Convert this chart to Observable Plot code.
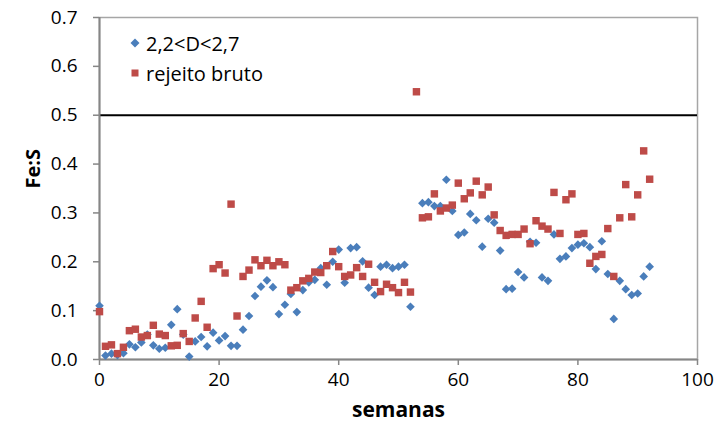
<!DOCTYPE html>
<html><head><meta charset="utf-8">
<script src="https://cdn.jsdelivr.net/npm/d3@7"></script>
<script src="https://cdn.jsdelivr.net/npm/@observablehq/plot@0.6"></script>
<style>
body{margin:0;background:#fff;font-family:"Open Sans",Lato,sans-serif}
#wrap{position:relative;width:715px;height:423px}
#legend{position:absolute;left:129px;top:28px;font-size:20px;color:#000;font-family:"Open Sans",Lato,sans-serif}
#legend .row{display:flex;align-items:center;height:30px}
#legend svg{margin-right:5px}
</style></head>
<body>
<div id="wrap"><div id="legend"></div></div>
<script>
const weeks = [0,1,2,3,4,5,6,7,8,9,10,11,12,13,14,15,16,17,18,19,20,21,22,23,24,25,26,27,28,29,30,31,32,33,34,35,36,37,38,39,40,41,42,43,44,45,46,47,48,49,50,51,52,53,54,55,56,57,58,59,60,61,62,63,64,65,66,67,68,69,70,71,72,73,74,75,76,77,78,79,80,81,82,83,84,85,86,87,88,89,90,91,92];
const seriesNames = ["2,2<D<2,7", "rejeito bruto"];
const densa = [
  0.110,0.008,0.012,0.009,0.013,0.031,0.025,0.035,0.051,0.029,
  0.022,0.024,0.071,0.103,0.051,0.006,0.037,0.046,0.027,0.055,
  0.039,0.048,0.028,0.028,0.061,0.089,0.130,0.149,0.162,0.148,
  0.093,0.112,0.134,0.097,0.142,0.158,0.163,0.187,0.153,0.200,
  0.225,0.157,0.228,0.230,0.201,0.147,0.132,0.190,0.194,0.187,
  0.190,0.194,0.108,null,0.320,0.322,0.314,0.314,0.368,0.304,
  0.255,0.260,0.298,0.285,0.231,0.288,0.280,0.223,0.144,0.145,
  0.179,0.168,0.241,0.239,0.168,0.161,0.256,0.206,0.211,0.228,
  0.235,0.238,0.230,0.185,0.242,0.175,0.083,0.161,0.144,0.132,
  0.135,0.170,0.190];
const rejeito = [
  0.098,0.027,0.030,0.012,0.025,0.059,0.062,0.046,0.049,0.070,
  0.052,0.049,0.028,0.029,0.053,0.037,0.085,0.119,0.066,0.186,
  0.194,0.177,0.318,0.089,0.170,0.183,0.204,0.192,0.203,0.192,
  0.200,0.194,0.142,0.147,0.161,0.166,0.179,0.178,0.192,0.221,
  0.190,0.170,0.173,0.188,0.170,0.195,0.158,0.139,0.154,0.147,
  0.137,0.158,0.138,0.548,0.290,0.292,0.339,0.304,0.310,0.316,
  0.361,0.329,0.341,0.365,0.337,0.353,0.296,0.264,0.254,0.256,
  0.256,0.267,0.237,0.284,0.273,0.267,0.342,0.258,0.327,0.339,
  0.256,0.258,0.197,0.211,0.215,0.268,0.170,0.290,0.358,0.292,
  0.337,0.427,0.369];
const limitLine = [0.5];
const xDomain = [0, 100];
const yDomain = [0, 0.7];
const xTicks = [0, 20, 40, 60, 80, 100];
const yTicks = [0, 0.1, 0.2, 0.3, 0.4, 0.5, 0.6, 0.7];
const xTitle = "semanas";
const yTitle = "Fe:S";

const blueData = weeks.map((w, i) => ({x: w, y: densa[i]})).filter(d => d.y != null);
const redData = weeks.map((w, i) => ({x: w, y: rejeito[i]})).filter(d => d.y != null);

const BLUE = "#4a7ebb", RED = "#be4b48", AXIS = "#868686";
const font = "'Open Sans', Lato, sans-serif";

const chart = Plot.plot({
  width: 715, height: 423,
  marginLeft: 99, marginRight: 18, marginTop: 17, marginBottom: 64,
  style: {fontFamily: font, fontSize: "19px", color: "#000", background: "#fff", overflow: "visible"},
  x: {domain: xDomain},
  y: {domain: yDomain},
  marks: [
    Plot.frame({stroke: "#a6a6a6", strokeWidth: 1.5}),
    Plot.ruleY(limitLine, {stroke: "#000", strokeWidth: 2}),
    Plot.axisX({ticks: xTicks, tickSize: 6, tickPadding: 7, stroke: AXIS, strokeWidth: 1.5, fill: "#000", label: null, fontSize: 19}),
    Plot.axisY({ticks: yTicks, tickSize: 6, tickPadding: 16, stroke: AXIS, strokeWidth: 1.5, fill: "#000", label: null, fontSize: 19, tickFormat: d => d.toFixed(1)}),
    Plot.ruleX([xDomain[0]], {stroke: AXIS, strokeWidth: 2}),
    Plot.ruleY([yDomain[0]], {stroke: AXIS, strokeWidth: 2}),
    Plot.text([xTitle], {frameAnchor: "bottom", lineAnchor: "middle", dy: 51, fontWeight: "bold", fontSize: 21, fill: "#000"}),
    Plot.text([yTitle], {frameAnchor: "left", rotate: -90, dx: -66, fontWeight: "bold", fontSize: 20, fill: "#000"}),
    Plot.dot(blueData, {x: "x", y: "y", symbol: "diamond2", r: 3.9, fill: BLUE, stroke: null}),
    Plot.dot(redData, {x: "x", y: "y", symbol: "square", r: 4.2, fill: RED, stroke: null})
  ]
});
const wrap = document.getElementById("wrap");
wrap.insertBefore(chart, wrap.firstChild);

const legend = document.getElementById("legend");
const syms = [
  `<svg width="12" height="12" viewBox="-6 -6 12 12"><path d="M0,-4.5L4.5,0L0,4.5L-4.5,0Z" fill="${BLUE}"/></svg>`,
  `<svg width="12" height="12" viewBox="-6 -6 12 12"><rect x="-3.5" y="-3.5" width="7" height="7" fill="${RED}"/></svg>`
];
seriesNames.forEach((name, i) => {
  const row = document.createElement("div");
  row.className = "row";
  row.innerHTML = syms[i] + `<span>${name.replace(/</g, "&lt;")}</span>`;
  legend.appendChild(row);
});
</script>
</body></html>
